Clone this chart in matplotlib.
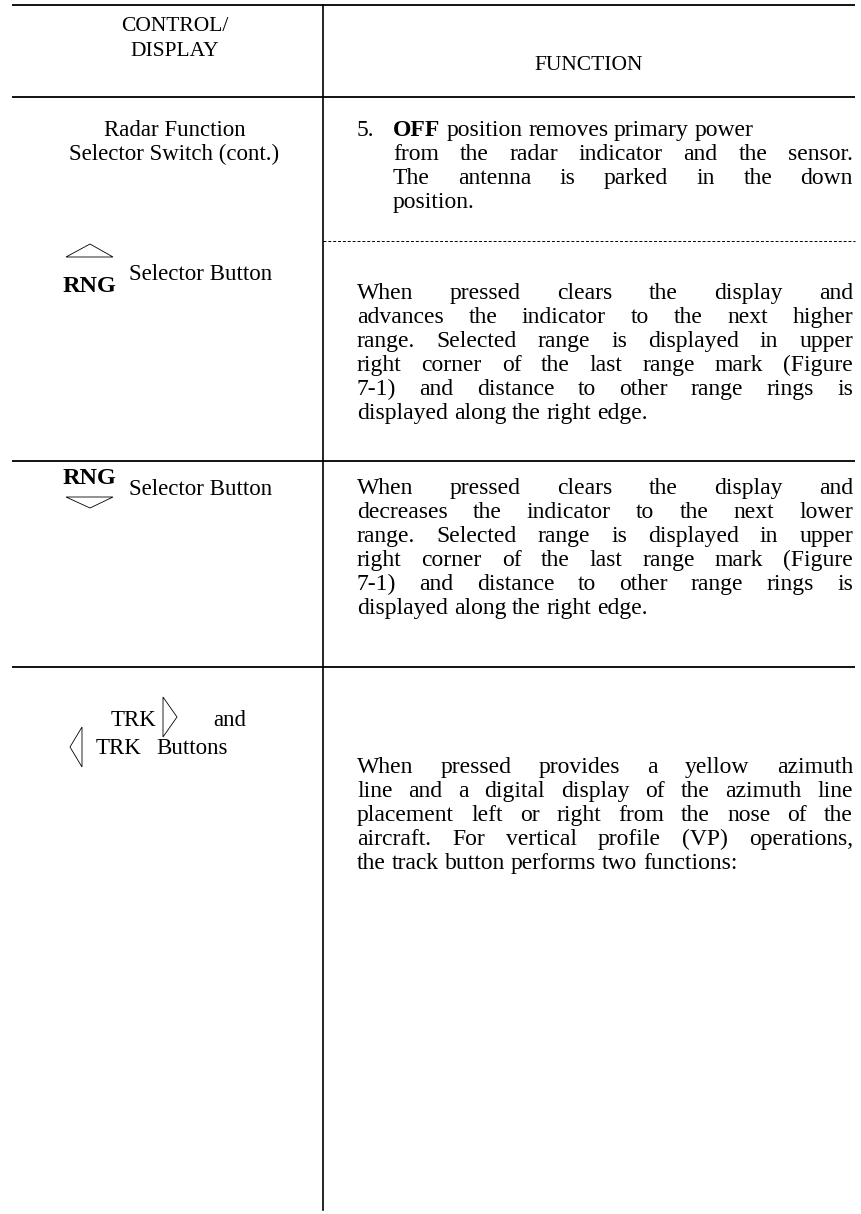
import matplotlib
matplotlib.use("Agg")
import matplotlib.pyplot as plt
from matplotlib.patches import Polygon

# ---------------------------------------------------
# 1. Page content
# ---------------------------------------------------

header_left = ["CONTROL/", "DISPLAY"]
header_right = "FUNCTION"

row1_left = ["Radar Function", "Selector Switch (cont.)"]
row1_number = "5."
row1_lines = [
    "OFF position removes primary power",
    "from the radar indicator and the sensor.",
    "The antenna is parked in the down",
    "position.",
]
row1_justify = [False, True, True, False]

rng_text = "RNG"
selector_text = "Selector Button"

row2_lines = [
    "When pressed clears the display and",
    "advances the indicator to the next higher",
    "range. Selected range is displayed in upper",
    "right corner of the last range mark (Figure",
    "7-1) and distance to other range rings is",
    "displayed along the right edge.",
]
row3_lines = [
    "When pressed clears the display and",
    "decreases the indicator to the next lower",
    "range. Selected range is displayed in upper",
    "right corner of the last range mark (Figure",
    "7-1) and distance to other range rings is",
    "displayed along the right edge.",
]
row23_justify = [True, True, True, True, True, False]

trk_left = ["TRK", "and", "TRK", "Buttons"]
row4_lines = [
    "When pressed provides a yellow azimuth",
    "line and a digital display of the azimuth line",
    "placement left or right from the nose of the",
    "aircraft. For vertical profile (VP) operations,",
    "the track button performs two functions:",
]
row4_justify = [True, True, True, True, False]

bold_words = {"OFF", "RNG"}

# ---------------------------------------------------
# 2. Figure in pixel coordinates
# ---------------------------------------------------

W, H = 862, 1214
plt.rcParams["font.family"] = ["Liberation Serif", "DejaVu Serif"]
FS_HEAD = 15.5
FS_LEFT = 16.5
FS = 17          # right column
FS_RNG = 17.5
LS = 24

fig = plt.figure(figsize=(W / 100, H / 100), dpi=100)
ax = fig.add_axes([0, 0, 1, 1])
ax.set_xlim(0, W)
ax.set_ylim(H, 0)
ax.axis("off")
renderer = fig.canvas.get_renderer()


def text_width(s, weight="normal"):
    t = ax.text(0, 0, s, fontsize=FS, fontweight=weight)
    w = t.get_window_extent(renderer).width
    t.remove()
    return w


space_w = text_width("a a") - text_width("aa")


def draw_line(line, x0, x1, y, justify):
    # words placed one by one so justified lines fill the column
    words = line.split(" ")
    weights = ["bold" if w in bold_words else "normal" for w in words]
    widths = [text_width(w, wt) for w, wt in zip(words, weights)]
    if justify and len(words) > 1:
        gap = (x1 - x0 - sum(widths)) / (len(words) - 1)
    else:
        gap = space_w
    x = x0
    for w, wt, wd in zip(words, weights, widths):
        ax.text(x, y, w, fontsize=FS, fontweight=wt, va="baseline", ha="left")
        x += wd + gap


def draw_block(lines, flags, x0, x1, y0):
    for i, (line, j) in enumerate(zip(lines, flags)):
        draw_line(line, x0, x1, y0 + i * LS, j)


def outline(points):
    ax.add_patch(Polygon(points, closed=True, fill=False, lw=0.6,
                         edgecolor="black"))


# ---------------------------------------------------
# 3. Rules
# ---------------------------------------------------

XL, XR, XD = 12, 855, 323
for y in [5, 97, 461, 667]:
    ax.plot([XL, XR], [y, y], color="black", lw=1.3, solid_capstyle="butt")
ax.plot([XD, XD], [5, 1210], color="black", lw=1.2)
ax.plot([XD, XR], [241, 241], color="black", lw=0.7, linestyle=(0, (3, 2)))

# ---------------------------------------------------
# 4. Header
# ---------------------------------------------------

ax.text(175, 31, header_left[0], fontsize=FS_HEAD, ha="center", va="baseline")
ax.text(175, 56, header_left[1], fontsize=FS_HEAD, ha="center", va="baseline")
ax.text(589, 70, header_right, fontsize=FS_HEAD, ha="center", va="baseline")

# ---------------------------------------------------
# 5. Rows
# ---------------------------------------------------

TX0, TX1 = 357, 853

# row 1
ax.text(175, 136, row1_left[0], fontsize=FS_LEFT, ha="center", va="baseline")
ax.text(174, 160, row1_left[1], fontsize=FS_LEFT, ha="center", va="baseline")
ax.text(TX0, 136, row1_number, fontsize=FS, va="baseline")
draw_block(row1_lines, row1_justify, 393, TX1, 136)

# row 2
outline([[66, 257], [90, 244], [113, 257]])
ax.text(63, 292, rng_text, fontsize=FS_RNG, fontweight="bold", va="baseline")
ax.text(129, 280, selector_text, fontsize=FS_LEFT, va="baseline")
draw_block(row2_lines, row23_justify, TX0, TX1, 299)

# row 3
ax.text(63, 484, rng_text, fontsize=FS_RNG, fontweight="bold", va="baseline")
ax.text(129, 495, selector_text, fontsize=FS_LEFT, va="baseline")
outline([[66, 497], [90, 508], [113, 497]])
draw_block(row3_lines, row23_justify, TX0, TX1, 494)

# row 4
ax.text(111, 726, trk_left[0], fontsize=FS_LEFT, va="baseline")
outline([[163, 697], [177, 717], [163, 737]])
ax.text(213, 726, trk_left[1], fontsize=FS_LEFT, va="baseline")
outline([[82, 727], [70, 747], [82, 767]])
ax.text(96, 754, trk_left[2], fontsize=FS_LEFT, va="baseline")
ax.text(156, 754, trk_left[3], fontsize=FS_LEFT, va="baseline")
draw_block(row4_lines, row4_justify, TX0, TX1, 773)

fig.savefig("out.png", dpi=100, facecolor="white")
